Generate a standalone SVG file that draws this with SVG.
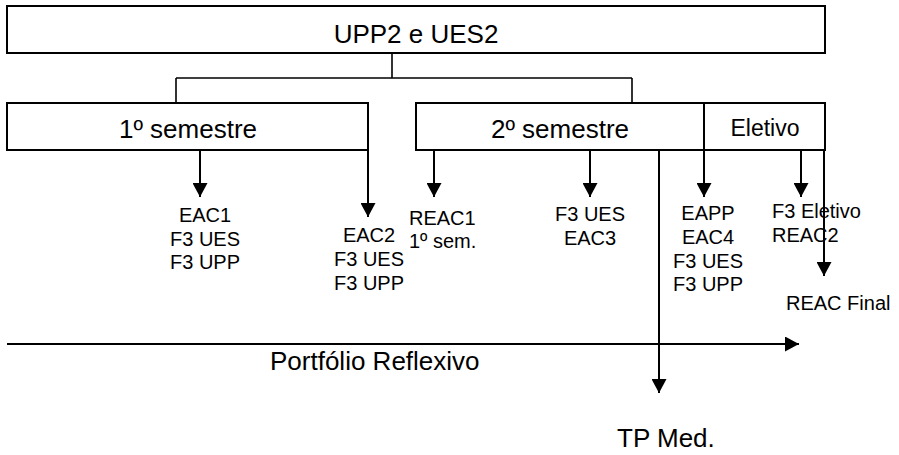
<svg xmlns="http://www.w3.org/2000/svg" width="899" height="455" viewBox="0 0 899 455">
<style>
.box{fill:#fff;stroke:#000;stroke-width:2}
.tree{fill:none;stroke:#000;stroke-width:1.6}
.arr{fill:none;stroke:#000;stroke-width:2;marker-end:url(#ah)}
.big{font-family:"Liberation Sans",Arial,sans-serif;font-size:26px;fill:#000}
.mid{font-family:"Liberation Sans",Arial,sans-serif;font-size:23px;fill:#000}
.sm{font-family:"Liberation Sans",Arial,sans-serif;font-size:20px;fill:#000}
.c{text-anchor:middle}
</style>
<defs>
<marker id="ah" markerUnits="userSpaceOnUse" markerWidth="14" markerHeight="15" refX="14" refY="7.5" orient="auto">
<path d="M0,0 L14,7.5 L0,15 z" fill="#000"/>
</marker>
</defs>
<rect width="899" height="455" fill="#fff"/>
<g id="connectors">
<path class="tree" d="M392,53 V78 M176,78 H632 M176,78 V103 M632,78 V103"/>
<line class="arr" x1="200" y1="150" x2="200" y2="197"/>
<line class="arr" x1="368" y1="150" x2="368" y2="217"/>
<line class="arr" x1="434" y1="150" x2="434" y2="197"/>
<line class="arr" x1="590" y1="150" x2="590" y2="197"/>
<line class="arr" x1="659" y1="150" x2="659" y2="393"/>
<line class="arr" x1="704" y1="150" x2="704" y2="197"/>
<line class="arr" x1="801" y1="150" x2="801" y2="197"/>
<line class="arr" x1="824" y1="150" x2="824" y2="276"/>
<line class="arr" x1="7" y1="344" x2="799" y2="344"/>
</g>
<g id="top">
<rect class="box" x="7" y="6" width="818" height="47"/>
<text class="big c" x="416" y="43">UPP2 e UES2</text>
</g>
<g id="sem1">
<rect class="box" x="7" y="103" width="361" height="47"/>
<text class="big c" x="188" y="138">1º semestre</text>
</g>
<g id="sem2">
<rect class="box" x="416" y="103" width="288" height="47"/>
<text class="big c" x="560" y="138">2º semestre</text>
</g>
<g id="eletivo">
<rect class="box" x="704" y="103" width="121" height="47"/>
<text class="mid c" x="765" y="136">Eletivo</text>
</g>
<g id="n-eac1">
<text class="sm c" x="205" y="222">EAC1</text>
<text class="sm c" x="205" y="246">F3 UES</text>
<text class="sm c" x="205" y="269">F3 UPP</text>
</g>
<g id="n-eac2">
<text class="sm c" x="369" y="242">EAC2</text>
<text class="sm c" x="369" y="266">F3 UES</text>
<text class="sm c" x="369" y="290">F3 UPP</text>
</g>
<g id="n-reac1">
<text class="sm" x="409" y="225">REAC1</text>
<text class="sm" x="409" y="248">1º sem.</text>
</g>
<g id="n-eac3">
<text class="sm c" x="590" y="221">F3 UES</text>
<text class="sm c" x="590" y="245">EAC3</text>
</g>
<g id="n-eapp">
<text class="sm c" x="708" y="220">EAPP</text>
<text class="sm c" x="708" y="244">EAC4</text>
<text class="sm c" x="708" y="268">F3 UES</text>
<text class="sm c" x="708" y="291">F3 UPP</text>
</g>
<g id="n-eletivo">
<text class="sm" x="772" y="218">F3 Eletivo</text>
<text class="sm" x="772" y="242">REAC2</text>
</g>
<g id="n-final">
<text class="sm" x="786" y="310">REAC Final</text>
</g>
<g id="n-tp">
<text class="big" x="617" y="447">TP Med.</text>
</g>
<g id="n-portfolio">
<text class="big" x="270" y="370">Portfólio Reflexivo</text>
</g>
</svg>
